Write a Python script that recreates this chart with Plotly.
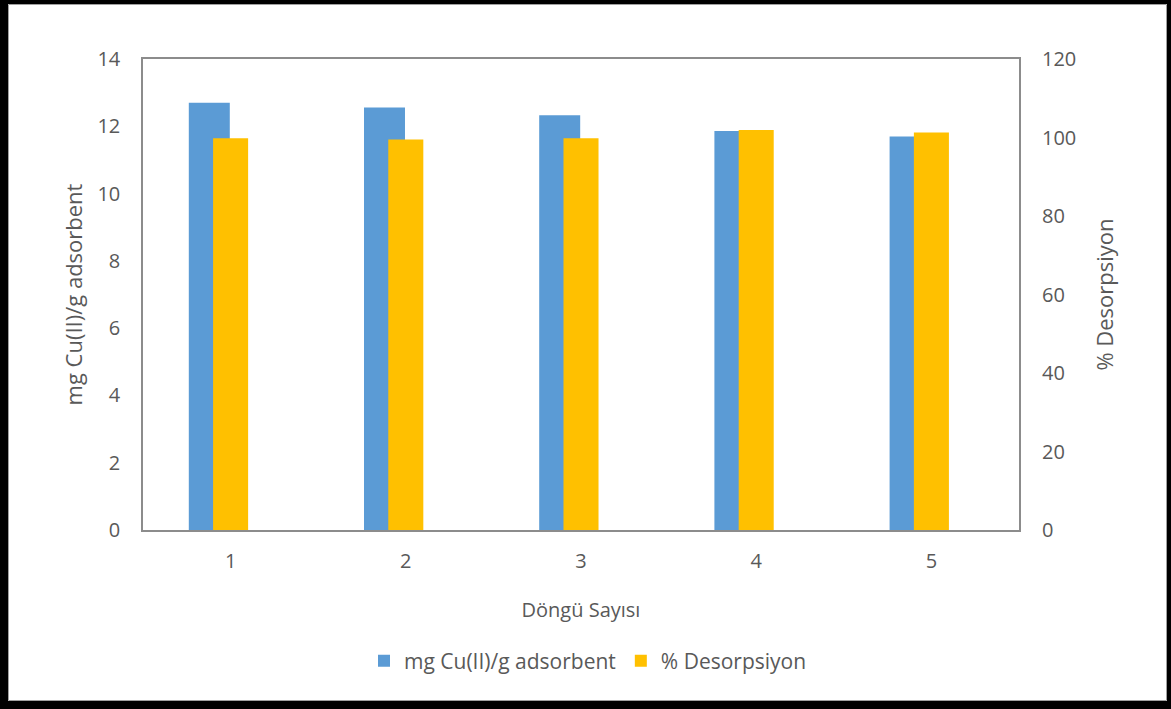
import plotly.graph_objects as go

cycles = [1, 2, 3, 4, 5]
adsorbed = [12.70, 12.56, 12.33, 11.86, 11.70]
desorption = [99.8, 99.5, 99.8, 101.9, 101.3]
left_ticks = [0, 2, 4, 6, 8, 10, 12, 14]
right_ticks = [0, 20, 40, 60, 80, 100, 120]

W, H = 1171, 709
L, R, T, B = 143, 1019, 59, 530
pw, ph = R - L, B - T

def px(x):
    return (x - L) / pw

def py(y):
    return (B - y) / ph

TXT = "#595959"
FONT = "Open Sans"

fig = go.Figure()
fig.add_trace(go.Bar(
    x=cycles, y=adsorbed, name="mg Cu(II)/g adsorbent",
    marker=dict(color="#5B9BD5", line=dict(width=0)),
    offset=-0.2386, width=0.234, yaxis="y",
))
fig.add_trace(go.Bar(
    x=cycles, y=desorption, name="% Desorpsiyon",
    marker=dict(color="#FFC000", line=dict(width=0)),
    offset=-0.1, width=0.2, yaxis="y2",
))

def box(x0, y0, x1, y1, color):
    return dict(type="rect", xref="paper", yref="paper",
                x0=px(x0), x1=px(x1), y0=py(y1), y1=py(y0),
                fillcolor=color, line=dict(width=0), layer="above")

fig.update_layout(
    width=W, height=H,
    margin=dict(l=L, r=W - R, t=T, b=H - B),
    paper_bgcolor="white", plot_bgcolor="white",
    barmode="overlay",
    font=dict(family=FONT, color=TXT, size=20),
    xaxis=dict(
        range=[0.5, 5.5], tickmode="array", tickvals=cycles,
        ticktext=[str(c) for c in cycles], showgrid=False,
        showline=True, linecolor="#8c8c8c", linewidth=1.5, mirror=True,
        ticks="", zeroline=False, ticklabelstandoff=12,
        tickfont=dict(size=20, color=TXT),
        title=dict(text="Döngü Sayısı", font=dict(size=20, color=TXT), standoff=30),
    ),
    yaxis=dict(
        range=[0, 14], tickvals=left_ticks, showgrid=False,
        showline=True, linecolor="#8c8c8c", linewidth=1.5, mirror=True,
        ticks="", zeroline=False, ticklabelstandoff=17,
        tickfont=dict(size=20, color=TXT),
        title=dict(text="mg Cu(II)/g adsorbent", font=dict(size=22, color=TXT), standoff=9),
    ),
    yaxis2=dict(
        range=[0, 120], tickvals=right_ticks, overlaying="y", side="right",
        showgrid=False, showline=False, ticks="", zeroline=False,
        ticklabelstandoff=22, tickfont=dict(size=20, color=TXT),
        title=dict(text="% Desorpsiyon", font=dict(size=22, color=TXT), standoff=22),
    ),
    legend=dict(
        orientation="h", x=px(588), xanchor="center", y=py(661), yanchor="middle",
        font=dict(size=21, color=TXT), traceorder="normal",
    ),
    shapes=[
        box(0, 0, 1171, 4, "black"),
        box(0, 0, 8, 709, "black"),
        box(1167, 0, 1171, 709, "black"),
        box(0, 701, 1171, 709, "black"),
        dict(type="rect", xref="paper", yref="paper",
             x0=px(8.5), x1=px(1166.5), y0=py(700.5), y1=py(4.5),
             line=dict(color="#a0a0a0", width=1), layer="above"),
    ],
)

fig.write_html("out.html", config={"displayModeBar": False},
               post_script="document.body.style.margin='0px';")
